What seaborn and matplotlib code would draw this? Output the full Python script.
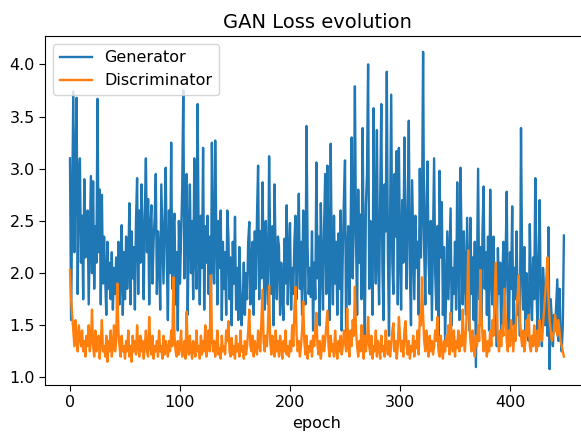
import numpy as np
import matplotlib
matplotlib.use("Agg")
import matplotlib.pyplot as plt
import seaborn as sns

# Per-epoch losses recorded during GAN training
generator_loss = [
    3.10, 1.55, 2.60, 3.74, 2.20, 3.05, 3.68, 1.80, 2.90, 3.10,
    2.10, 2.55, 1.75, 2.90, 2.15, 2.40, 2.60, 1.70, 2.30, 2.93,
    2.00, 2.88, 1.85, 2.45, 2.10, 3.67, 2.20, 2.80, 1.70, 2.75,
    1.90, 2.35, 1.95, 1.60, 2.30, 1.85, 2.10, 1.75, 2.20, 1.65,
    2.05, 1.80, 2.15, 1.55, 2.30, 1.70, 1.90, 2.46, 1.60, 2.20,
    1.75, 2.35, 1.85, 2.10, 2.67, 1.70, 2.40, 1.95, 2.25, 1.65,
    2.50, 2.91, 1.80, 2.60, 2.10, 2.85, 2.40, 1.75, 2.55, 3.10,
    2.20, 2.71, 1.70, 2.45, 2.65, 1.90, 2.30, 2.55, 2.95, 1.80,
    2.40, 2.20, 1.65, 2.85, 2.35, 1.90, 2.50, 3.01, 2.10, 1.55,
    2.60, 2.00, 3.25, 1.85, 2.45, 2.57, 1.70, 2.20, 1.45, 2.50,
    1.90, 2.35, 2.80, 3.75, 1.95, 2.60, 2.95, 1.60, 2.40, 2.85,
    2.00, 2.50, 1.75, 3.10, 2.20, 1.85, 3.62, 2.30, 1.70, 2.55,
    2.05, 3.20, 1.65, 2.45, 2.10, 2.55, 1.80, 2.35, 1.33, 3.25,
    2.15, 1.90, 3.27, 2.40, 1.70, 2.50, 2.05, 2.60, 1.55, 2.30,
    1.85, 2.20, 1.60, 2.60, 2.35, 1.75, 2.15, 1.50, 2.30, 1.90,
    2.54, 1.65, 2.05, 1.55, 2.25, 1.80, 1.50, 1.71, 2.10, 1.60,
    2.00, 1.75, 2.30, 2.49, 1.70, 2.15, 2.30, 1.60, 2.40, 1.85,
    2.55, 3.03, 1.75, 2.40, 1.95, 2.87, 2.10, 1.65, 2.50, 2.00,
    1.70, 3.12, 2.25, 1.80, 2.45, 1.50, 2.85, 2.05, 1.75, 2.35,
    2.25, 1.60, 2.10, 1.85, 1.55, 2.33, 1.90, 2.65, 1.70, 2.20,
    2.48, 1.65, 2.05, 1.80, 2.30, 2.55, 1.75, 2.15, 2.76, 1.85,
    2.30, 1.60, 2.60, 2.00, 1.70, 3.41, 2.25, 1.80, 2.05, 1.77,
    2.40, 1.45, 2.10, 1.75, 3.06, 1.95, 2.35, 1.50, 2.67, 2.10,
    1.65, 2.45, 2.95, 1.80, 3.03, 2.20, 1.55, 3.24, 2.05, 1.70,
    2.55, 1.90, 2.30, 1.60, 2.38, 1.85, 2.60, 1.45, 2.20, 2.70,
    3.08, 1.40, 2.15, 2.45, 1.70, 2.30, 3.30, 1.95, 2.50, 3.79,
    2.35, 1.60, 2.80, 2.10, 2.56, 1.75, 3.39, 2.20, 1.40, 2.65,
    2.95, 4.00, 1.85, 2.50, 2.20, 1.60, 3.58, 2.40, 1.90, 3.37,
    2.15, 1.70, 2.75, 3.62, 2.05, 1.55, 2.85, 2.40, 3.93, 2.20,
    1.40, 2.60, 3.71, 2.10, 1.80, 2.95, 2.35, 3.17, 1.70, 3.20,
    2.25, 1.65, 2.70, 2.10, 3.30, 2.45, 1.85, 2.60, 3.46, 2.00,
    1.50, 2.89, 2.30, 1.75, 2.55, 2.05, 2.30, 1.60, 3.00, 2.15,
    2.60, 4.12, 2.20, 1.70, 2.65, 3.07, 2.10, 1.80, 2.50, 1.55,
    2.35, 3.10, 2.00, 1.65, 2.45, 1.30, 2.98, 2.15, 2.68, 1.60,
    2.25, 1.35, 1.90, 2.40, 1.75, 2.20, 2.62, 1.50, 2.05, 1.80,
    2.30, 1.65, 2.87, 2.10, 1.55, 3.01, 2.25, 1.70, 2.40, 1.95,
    1.60, 2.53, 2.00, 1.45, 2.53, 1.80, 2.15, 1.55, 2.30, 1.10,
    2.05, 3.00, 1.75, 2.25, 1.50, 2.40, 2.83, 1.85, 2.20, 1.60,
    2.35, 1.45, 2.80, 2.00, 1.70, 2.35, 1.55, 2.05, 1.30, 2.24,
    1.80, 2.10, 1.40, 1.95, 2.30, 1.60, 2.15, 2.78, 1.70, 1.35,
    2.20, 1.85, 2.64, 1.50, 2.05, 1.75, 2.40, 1.60, 1.95, 1.40,
    3.39, 2.10, 1.65, 2.25, 1.45, 2.00, 1.70, 1.35, 2.47, 1.80,
    1.55, 2.15, 1.75, 2.91, 1.90, 1.45, 2.20, 2.70, 1.60, 1.30,
    2.05, 1.85, 1.50, 1.95, 1.40, 2.44, 1.08, 1.75, 1.55, 1.30,
    1.60, 1.45, 1.70, 1.94, 1.35, 1.85, 1.40, 1.25, 1.50, 2.36,
]

discriminator_loss = [
    2.03, 1.75, 1.60, 1.45, 1.30, 1.55, 1.35, 1.25, 1.50, 1.40,
    1.30, 1.45, 1.25, 1.35, 1.20, 1.40, 1.30, 1.50, 1.25, 1.35,
    1.65, 1.30, 1.20, 1.45, 1.25, 1.30, 1.40, 1.18, 1.35, 1.55,
    1.25, 1.30, 1.20, 1.40, 1.15, 1.35, 1.25, 1.45, 1.20, 1.30,
    1.50, 1.25, 1.35, 1.90, 1.45, 1.30, 1.20, 1.40, 1.25, 1.30,
    1.18, 1.35, 1.25, 1.45, 1.20, 1.30, 1.15, 1.40, 1.25, 1.35,
    1.22, 1.50, 1.30, 1.20, 1.40, 1.25, 1.35, 1.18, 1.30, 1.45,
    1.25, 1.20, 1.58, 1.30, 1.22, 1.40, 1.18, 1.30, 1.25, 1.35,
    1.20, 1.45, 1.25, 1.30, 1.18, 1.40, 1.22, 1.35, 1.28, 1.20,
    1.35, 1.25, 1.45, 1.30, 1.96, 1.40, 1.25, 1.20, 1.35, 1.22,
    1.30, 1.45, 1.20, 1.25, 1.35, 1.18, 1.63, 1.30, 1.22, 1.40,
    1.25, 1.18, 1.35, 1.28, 1.20, 1.45, 1.25, 1.30, 1.18, 1.40,
    1.22, 1.35, 1.25, 1.50, 1.20, 1.30, 1.45, 1.25, 1.98, 1.40,
    1.25, 1.35, 1.20, 1.30, 1.45, 1.22, 1.28, 1.18, 1.40, 1.25,
    1.30, 1.22, 1.45, 1.35, 1.54, 1.25, 1.20, 1.38, 1.22, 1.30,
    1.18, 1.40, 1.25, 1.32, 1.20, 1.45, 1.25, 1.30, 1.18, 1.35,
    1.22, 1.30, 1.45, 1.65, 1.30, 1.25, 1.40, 1.20, 1.35, 1.28,
    1.22, 1.45, 1.30, 1.25, 1.55, 1.84, 1.35, 1.25, 1.40, 1.30,
    1.50, 1.88, 1.35, 1.22, 1.40, 1.28, 1.20, 1.45, 1.25, 1.35,
    1.20, 1.40, 1.30, 1.18, 1.35, 1.25, 1.45, 1.22, 1.30, 1.20,
    1.35, 1.25, 1.50, 1.30, 1.65, 1.87, 1.40, 1.25, 1.35, 1.20,
    1.30, 1.45, 1.73, 1.35, 1.22, 1.40, 1.18, 1.30, 1.25, 1.35,
    1.20, 1.40, 1.30, 1.45, 1.62, 1.30, 1.22, 1.35, 1.18, 1.28,
    1.40, 1.25, 1.35, 1.50, 1.64, 1.30, 1.20, 1.40, 1.25, 1.32,
    1.20, 1.45, 1.28, 1.18, 1.35, 1.25, 1.40, 1.22, 1.30, 1.45,
    1.35, 1.25, 1.66, 1.30, 1.20, 1.45, 1.30, 1.55, 1.40, 1.87,
    1.45, 1.30, 1.20, 1.35, 1.25, 1.50, 1.30, 1.18, 1.40, 1.25,
    1.35, 1.58, 1.30, 1.22, 1.40, 1.18, 1.30, 1.25, 1.45, 1.20,
    1.35, 1.28, 1.18, 1.40, 1.25, 1.30, 1.20, 1.45, 1.28, 1.22,
    1.35, 1.20, 1.30, 1.45, 1.52, 1.25, 1.35, 1.18, 1.30, 1.58,
    1.40, 1.25, 1.35, 1.20, 1.45, 1.54, 1.30, 1.22, 1.35, 1.18,
    1.30, 1.25, 1.40, 1.20, 1.35, 1.28, 1.45, 1.22, 1.60, 1.50,
    1.96, 1.60, 1.35, 1.25, 1.45, 1.30, 1.20, 1.40, 1.25, 1.35,
    1.22, 1.30, 1.45, 1.35, 1.58, 1.25, 1.20, 1.40, 1.28, 1.18,
    1.35, 1.25, 1.40, 1.30, 1.50, 1.22, 1.62, 1.35, 1.25, 1.45,
    1.20, 1.35, 1.28, 1.45, 1.25, 1.40, 1.30, 1.65, 1.35, 1.25,
    1.45, 1.70, 2.22, 1.55, 1.35, 1.25, 1.45, 1.30, 1.20, 1.40,
    1.30, 1.50, 1.35, 2.03, 1.60, 1.40, 1.25, 1.45, 1.30, 1.20,
    1.35, 1.25, 1.45, 1.30, 1.55, 1.40, 1.75, 2.10, 1.65, 1.35,
    1.25, 1.45, 1.30, 1.50, 1.40, 1.85, 1.60, 1.35, 1.25, 1.45,
    1.30, 1.55, 1.40, 1.25, 1.50, 1.35, 1.70, 1.80, 1.98, 1.55,
    1.40, 1.30, 1.45, 1.25, 1.35, 1.55, 1.40, 1.60, 1.30, 1.25,
    1.40, 1.30, 1.50, 1.35, 1.25, 1.45, 1.30, 1.55, 1.40, 1.35,
    1.50, 1.65, 1.80, 1.95, 2.15, 1.75, 1.55, 1.45, 1.35, 1.40,
    1.45, 1.60, 1.50, 1.40, 1.55, 1.45, 1.35, 1.30, 1.25, 1.20,
]

epochs = np.arange(len(generator_loss))

plt.rcParams.update({
    "font.size": 11.5,
    "axes.titlesize": 14,
    "xtick.major.size": 4,
    "ytick.major.size": 4,
})

fig = plt.figure(figsize=(5.81, 4.38), dpi=100)
# axes extend slightly past the right edge of the canvas
ax = fig.add_axes([45.3 / 581, 53 / 438, 543.3 / 581, 349 / 438])

sns.lineplot(x=epochs, y=generator_loss, ax=ax, label="Generator",
             color="#1f77b4", linewidth=1.7)
sns.lineplot(x=epochs, y=discriminator_loss, ax=ax, label="Discriminator",
             color="#ff7f0e", linewidth=1.7)

ax.set_title("GAN Loss evolution")
ax.set_xlabel("epoch")
ax.set_ylabel("")
ax.set_xticks([0, 100, 200, 300, 400])
ax.legend(loc="upper left")

fig.savefig("out.png", dpi=100)
